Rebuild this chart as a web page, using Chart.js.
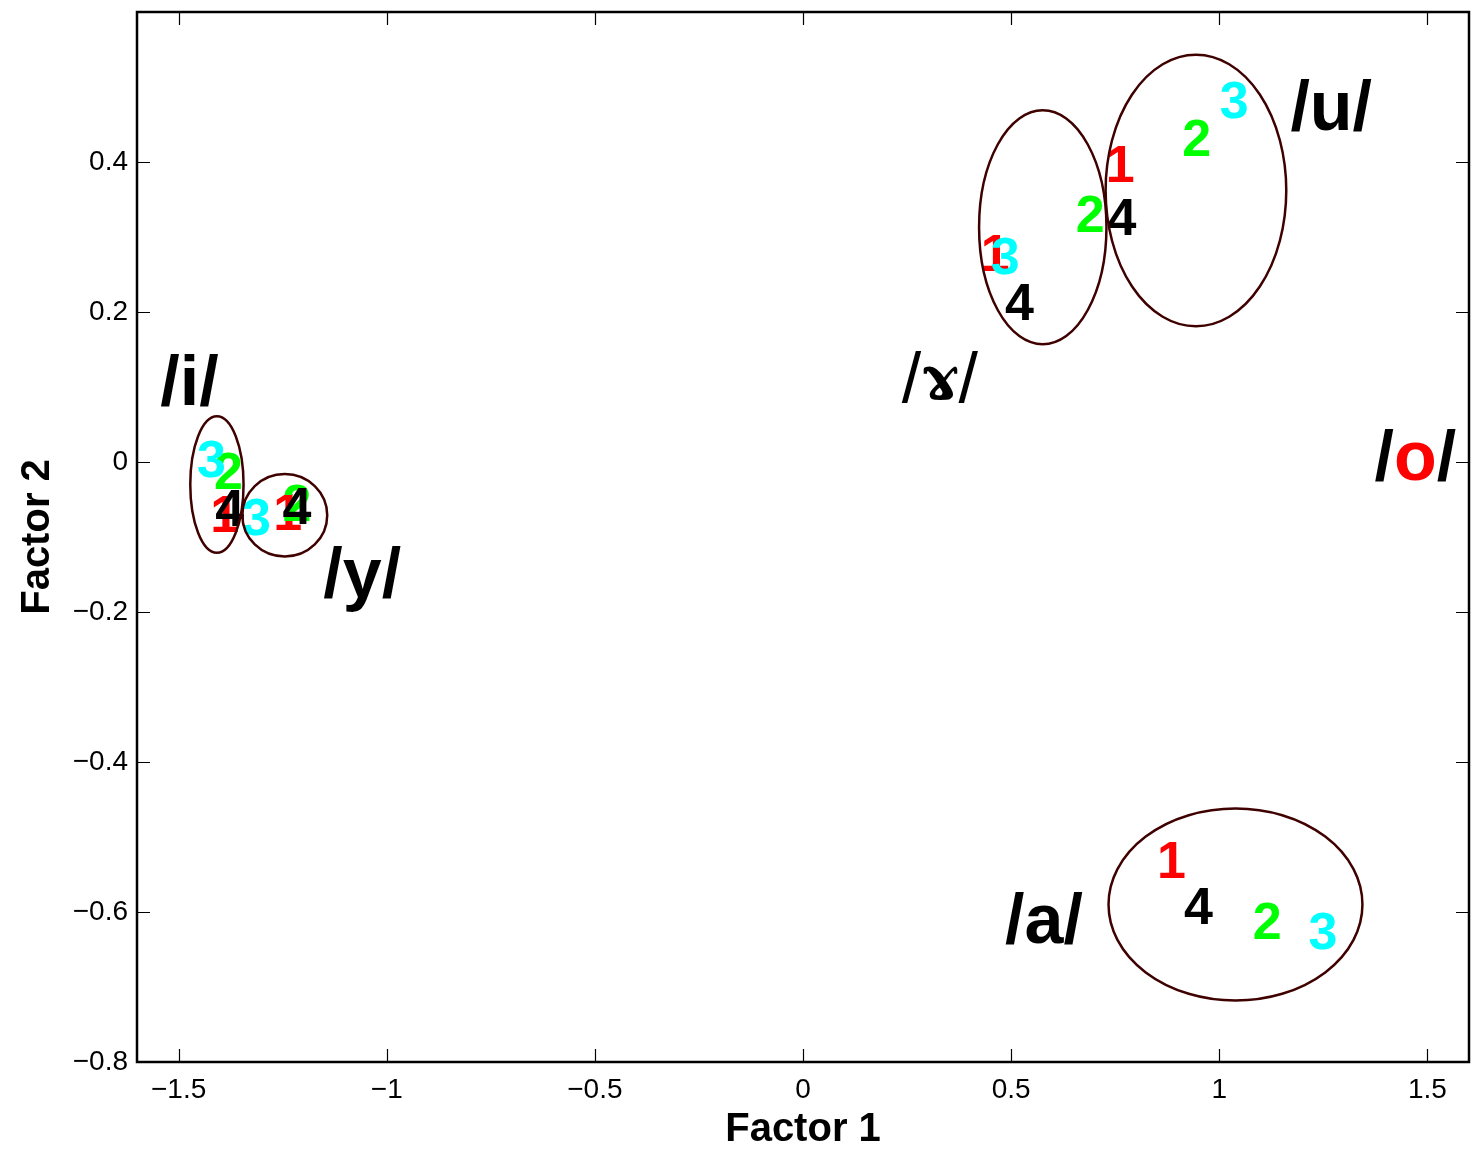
<!DOCTYPE html>
<html>
<head>
<meta charset="utf-8">
<script src="https://cdn.jsdelivr.net/npm/chart.js@4/dist/chart.umd.min.js"></script>
<style>
  body { margin: 0; background: #fff; }
  #chart { display: block; }
</style>
</head>
<body>
<canvas id="chart" width="1472" height="1149"></canvas>
<script>
// speaker sessions 1..4, points per vowel (i, y, ɤ, u, a)
const vowels = ["i", "y", "ɤ", "u", "a"];
const sessions = ["1", "2", "3", "4"];
const sessionColors = ["#ff0000", "#00ff00", "#00ffff", "#000000"];

const s1X = [-1.389, -1.238, 0.462, 0.762, 0.885];
const s1Y = [-0.068, -0.066, 0.280, 0.398, -0.530];
const s2X = [-1.380, -1.216, 0.690, 0.946, 1.115];
const s2Y = [-0.011, -0.054, 0.332, 0.433, -0.611];
const s3X = [-1.421, -1.313, 0.486, 1.036, 1.249];
const s3Y = [0.005, -0.073, 0.275, 0.483, -0.624];
const s4X = [-1.377, -1.216, 0.520, 0.766, 0.950];
const s4Y = [-0.060, -0.058, 0.214, 0.327, -0.591];

// ellipses round each vowel cluster (centre, half-width, half-height)
const ellX = [-1.408, -1.245, 0.576, 0.944, 1.039];
const ellY = [-0.030, -0.071, 0.313, 0.362, -0.590];
const ellRX = [0.064, 0.102, 0.153, 0.217, 0.305];
const ellRY = [0.091, 0.055, 0.156, 0.181, 0.128];

// vowel names
const labelText = ["/i/", "/y/", "/ɤ/", "/u/", "/a/", "/o/"];
const labelX = [-1.474, -1.059, 0.329, 1.269, 0.579, 1.471];
const labelY = [0.109, -0.147, 0.113, 0.475, -0.609, 0.009];

const xTicks = [-1.5, -1, -0.5, 0, 0.5, 1, 1.5];
const yTicks = [-0.8, -0.6, -0.4, -0.2, 0, 0.2, 0.4];

const FONT = "'Liberation Sans', Arial, Helvetica, sans-serif";

function fmt(v) {
  return v < 0 ? "\u2212" + String(Math.abs(v)) : String(v);
}

function toPoints(xs, ys) {
  return xs.map((x, i) => ({ x: x, y: ys[i] }));
}

const allX = [s1X, s2X, s3X, s4X];
const allY = [s1Y, s2Y, s3Y, s4Y];

const datasets = sessions.map((s, k) => ({
  label: s,
  data: toPoints(allX[k], allY[k]),
  pointRadius: 0,
  pointHoverRadius: 0,
  showLine: false,
  backgroundColor: sessionColors[k],
}));

// draws the digits, ellipses, vowel names and the boxed axes
const overlayPlugin = {
  id: "overlay",
  afterDatasetsDraw(chart) {
    const ctx = chart.ctx;
    const xs = chart.scales.x;
    const ys = chart.scales.y;
    const area = chart.chartArea;

    ctx.save();
    // digits at each point
    const numSize = 52;
    ctx.font = "bold " + numSize + "px " + FONT;
    ctx.textAlign = "center";
    ctx.textBaseline = "alphabetic";
    chart.data.datasets.forEach((ds, k) => {
      const meta = chart.getDatasetMeta(k);
      meta.data.forEach((pt) => {
        ctx.fillStyle = sessionColors[k];
        ctx.fillText(ds.label, pt.x, pt.y + numSize * 0.36);
      });
    });

    // ellipses
    ctx.strokeStyle = "#3f0000";
    ctx.lineWidth = 2.5;
    ellX.forEach((cx, i) => {
      const px = xs.getPixelForValue(cx);
      const py = ys.getPixelForValue(ellY[i]);
      const rx = Math.abs(xs.getPixelForValue(cx + ellRX[i]) - px);
      const ry = Math.abs(ys.getPixelForValue(ellY[i] + ellRY[i]) - py);
      ctx.beginPath();
      ctx.ellipse(px, py, rx, ry, 0, 0, Math.PI * 2);
      ctx.stroke();
    });

    // vowel names: slash, symbol, slash
    const lblSize = 70;
    labelText.forEach((t, i) => {
      const mid = t.slice(1, -1);
      const special = mid === "ɤ";
      const slashFont = (special ? "" : "bold ") + lblSize + "px " + FONT;
      const midFont = special ? "bold " + (lblSize * 0.85) + "px 'DejaVu Serif', serif" : "bold " + lblSize + "px " + FONT;
      const midColor = mid === "o" ? "#ff0000" : "#000000";
      ctx.font = slashFont;
      const ws = ctx.measureText("/").width;
      ctx.font = midFont;
      const wm = ctx.measureText(mid).width;
      const total = ws * 2 + wm;
      const cx = xs.getPixelForValue(labelX[i]);
      const cy = ys.getPixelForValue(labelY[i]) + lblSize * 0.35;
      let x = cx - total / 2;
      ctx.textAlign = "left";
      ctx.font = slashFont;
      ctx.fillStyle = "#000";
      ctx.fillText("/", x, cy);
      x += ws;
      ctx.font = midFont;
      ctx.fillStyle = midColor;
      ctx.fillText(mid, x, special ? cy - lblSize * 0.05 : cy);
      x += wm;
      ctx.font = slashFont;
      ctx.fillStyle = "#000";
      ctx.fillText("/", x, cy);
    });

    // box and inward ticks on all four sides
    ctx.strokeStyle = "#000";
    ctx.lineWidth = 2.5;
    ctx.strokeRect(area.left, area.top, area.right - area.left, area.bottom - area.top);
    const tl = 13;
    ctx.lineWidth = 1.2;
    ctx.beginPath();
    xTicks.forEach((v) => {
      const p = Math.round(xs.getPixelForValue(v)) + 0.5;
      ctx.moveTo(p, area.bottom); ctx.lineTo(p, area.bottom - tl);
      ctx.moveTo(p, area.top); ctx.lineTo(p, area.top + tl);
    });
    yTicks.forEach((v) => {
      const p = Math.round(ys.getPixelForValue(v)) + 0.5;
      ctx.moveTo(area.left, p); ctx.lineTo(area.left + tl, p);
      ctx.moveTo(area.right, p); ctx.lineTo(area.right - tl, p);
    });
    ctx.stroke();
    ctx.restore();
  },
};

new Chart(document.getElementById("chart"), {
  type: "scatter",
  data: { datasets: datasets },
  options: {
    responsive: false,
    animation: false,
    events: [],
    layout: { padding: { top: 12, right: 3, left: 0, bottom: 0 } },
    plugins: { legend: { display: false }, tooltip: { enabled: false } },
    scales: {
      x: {
        type: "linear",
        min: -1.6,
        max: 1.6,
        grid: { display: false, drawTicks: false },
        border: { display: false },
        afterBuildTicks: (s) => { s.ticks = xTicks.map((v) => ({ value: v })); },
        afterFit: (s) => { s.height = 87; s.paddingLeft = 0; s.paddingRight = 0; },
        ticks: {
          color: "#000",
          font: { family: FONT, size: 28 },
          padding: 11,
          maxRotation: 0,
          autoSkip: false,
          callback: (v) => fmt(v),
        },
        title: {
          display: true,
          text: "Factor 1",
          color: "#000",
          font: { family: FONT, size: 40, weight: "bold" },
          padding: { top: 0, bottom: -5 },
        },
      },
      y: {
        type: "linear",
        min: -0.8,
        max: 0.6,
        grid: { display: false, drawTicks: false },
        border: { display: false },
        afterBuildTicks: (s) => { s.ticks = yTicks.map((v) => ({ value: v })); },
        afterFit: (s) => { s.width = 137; s.paddingTop = 0; s.paddingBottom = 0; },
        ticks: {
          color: "#000",
          font: { family: FONT, size: 28 },
          padding: 9,
          autoSkip: false,
          callback: (v) => fmt(v),
        },
        title: {
          display: true,
          text: "Factor 2",
          color: "#000",
          font: { family: FONT, size: 40, weight: "bold" },
          padding: { top: 14, bottom: 0 },
        },
      },
    },
  },
  plugins: [overlayPlugin],
});
</script>
</body>
</html>
